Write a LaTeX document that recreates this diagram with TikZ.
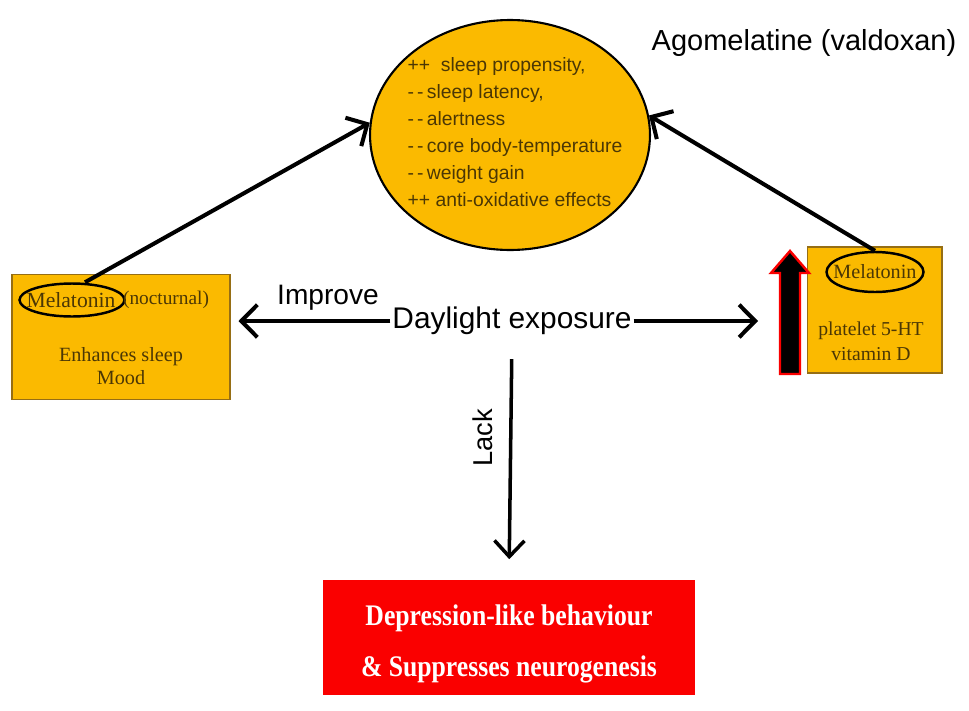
\documentclass[tikz,border=0pt]{standalone}
\usepackage{fontspec}
\setmainfont{Liberation Serif}
\setsansfont{Liberation Sans}
\newfontfamily\narrowserif[FakeStretch=0.86]{Liberation Serif}
\usetikzlibrary{arrows.meta,positioning,shapes.geometric}
\definecolor{amber}{RGB}{251,186,0}
\definecolor{boxedge}{RGB}{150,110,20}
\definecolor{inkbrown}{RGB}{75,55,5}
\definecolor{alarm}{RGB}{250,0,0}

\begin{document}
\begin{tikzpicture}[x=0.02cm,y=-0.02cm,
  font=\sffamily,
  panel/.style={draw=boxedge,line width=0.6pt,fill=amber,inner sep=0pt},
  serif/.style={font=\rmfamily\fontsize{11.5}{13}\selectfont,text=inkbrown,inner sep=1pt},
  ring/.style={ellipse,draw=black,line width=1.4pt,inner sep=0pt},
  lbl/.style={font=\sffamily\fontsize{17}{20}\selectfont,inner sep=1pt},
  bigarr/.style={line width=2.3pt,-{Straight Barb[length=3.2mm,width=6.5mm]}}]
\useasboundingbox (0,0) rectangle (969,710);
% central ellipse
\node[ellipse,draw,line width=1.2pt,fill=amber,inner sep=0pt,minimum width=5.6cm,minimum height=4.6cm] (effects) at (510,135) {};
\node[align=left,text=inkbrown,inner sep=0pt,font=\sffamily\fontsize{11}{15.3}\selectfont] (efftext) at (515,132)
  {++\ \ sleep propensity,\\-\,-\,sleep latency,\\-\,-\,alertness\\-\,-\,core body-temperature\\-\,-\,weight gain\\++ anti-oxidative effects};
\node[lbl,font=\sffamily\fontsize{16.5}{20}\selectfont] (ago) at (804,43) {Agomelatine (valdoxan)};
% left box
\node[panel,minimum width=4.36cm,minimum height=2.5cm] (leftbox) at (121,337) {};
\node[ring,minimum width=2.1cm,minimum height=0.66cm] (ringL) at (72,300) {};
\node[serif,font=\rmfamily\fontsize{12.3}{14}\selectfont] (melL) at (71,300) {Melatonin};
\node[serif,anchor=west,font=\rmfamily\fontsize{11}{13}\selectfont] (noct) at (121,300) {(nocturnal)};
\node[serif,align=center] (enh) at (121,366) {Enhances sleep\\Mood};
% right box
\node[panel,minimum width=2.7cm,minimum height=2.52cm] (rightbox) at (874.5,310) {};
\node[ring,minimum width=1.94cm,minimum height=0.8cm] (ringR) at (875,272) {};
\node[serif] (melR) at (875,272) {Melatonin};
\node[serif,align=center,font=\rmfamily\fontsize{11.2}{14}\selectfont] (plt) at (871,341) {platelet 5-HT\\vitamin D};
\draw[draw=alarm,fill=black,line width=1.4pt] (780,374) -- (780,273) -- (771,273) -- (790,251)
  -- (809,273) -- (800,273) -- (800,374) -- cycle;
\coordinate (rightend) at (758,321);
% daylight
\node[lbl] (day) at (512,321) {Daylight exposure};
\node[lbl,font=\sffamily\fontsize{16}{20}\selectfont] (imp) at (328,298) {Improve};
\node[lbl,rotate=90,font=\sffamily\fontsize{15.5}{18}\selectfont] (lack) at (483,438) {Lack};
% outcome
\node[fill=alarm,minimum width=7.44cm,minimum height=2.3cm] (outcome) at (509,637) {};
\node[text=white,align=center,inner sep=0pt,
  font=\narrowserif\bfseries\fontsize{17}{29}\selectfont] (outtext) at (509,644)
  {Depression-like behaviour\\\& Suppresses neurogenesis};
% arrows
\draw[bigarr] ([xshift=0.26cm]ringL.north) -- (effects.175);
\draw[bigarr] (ringR.north) -- (effects.8);
\draw[bigarr] (day.west) -- ([xshift=0.16cm]day.west -| leftbox.east);
\draw[bigarr] (day.east) -- (rightend);
\draw[line width=2pt,-{Straight Barb[length=3.2mm,width=6mm]},shorten <=0.44cm,shorten >=0.4cm]
  (day.south) -- (outcome.north);
\end{tikzpicture}
\end{document}
